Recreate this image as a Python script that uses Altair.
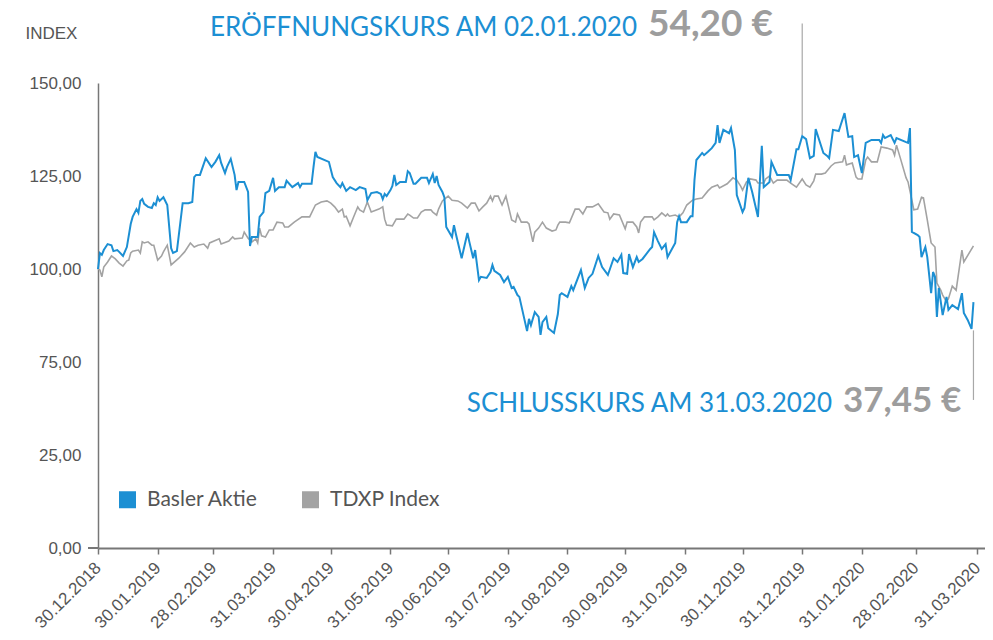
import altair as alt
import pandas as pd

START = "2018-12-30"

basler_days = [0,1,2,3,5,7,8,10,11,13,15,17,18,20,21,22,23,24,26,28,29,30,31,32,34,36,38,39,41,44,47,49,50,51,53,56,59,61,63,64,66,67,69,71,72,73,76,78,79,
               80,83,84,86,87,89,91,92,94,97,98,101,104,105,106,111,112,113,114,120,122,124,126,127,129,131,134,136,139,140,142,145,147,148,149,150,152,153,154,155,157,160,161,162,164,165,168,171,172,174,175,176,177,179,180,181,184,185,186,189,192,193,195,196,198,199,202,204,205,206,209,211,213,215,216,218,219,223,224,225,227,229,230,231,233,234,237,239,240,241,244,246,247,251,253,255,257,260,262,265,268,270,272,273,275,276,278,280,281,283,287,288,289,291,293,295,296,300,301,302,303,306,308,309,310,311,314,315,317,319,321,322,323,325,328,329,331,332,335,336,338,340,343,345,346,349,350,353,359,360,363,364,366,368,370,372,373,377,379,380,382,385,386,388,390,392,393,395,397,399,402,406,407,408,409,412,414,415,420,421,422,423,426,427,428,430,431,433,434,435,436,437,439,441,442,444,447,449,450,452,454,455]
basler_values = [100.0,104.3,103.8,105.1,106.7,106.4,104.8,105.1,104.6,103.5,105.9,112.1,114.0,116.1,115.1,118.3,118.8,117.5,116.7,116.4,117.7,117.2,119.3,118.3,119.3,117.2,105.6,104.3,104.8,117.7,117.7,118.0,124.7,125.3,125.3,129.8,127.4,128.8,130.6,128.5,125.8,127.4,129.6,125.3,121.2,123.4,123.4,120.7,106.2,
                 108.6,108.6,114.0,115.3,120.4,121.0,124.5,121.0,122.0,122.0,123.7,122.0,123.1,122.0,122.9,122.9,127.4,131.5,130.1,128.8,124.7,123.1,122.0,123.1,121.0,122.0,121.2,122.0,121.5,118.5,120.4,120.7,120.2,118.8,120.2,119.6,121.2,122.3,125.3,122.6,123.4,123.4,126.3,125.8,122.9,122.9,124.5,124.5,123.1,125.5,123.1,125.0,122.6,120.7,119.3,111.3,108.6,111.8,109.4,102.9,109.7,107.3,102.9,105.1,97.0,97.9,97.6,99.2,101.1,99.5,98.4,96.5,97.9,94.9,95.2,93.0,92.5,83.3,86.6,84.9,88.4,87.1,82.3,85.7,87.1,84.1,82.8,87.9,93.0,93.5,92.5,95.4,94.3,99.7,94.9,97.6,98.7,103.5,100.5,98.4,102.9,101.9,103.8,98.9,98.7,104.0,100.5,103.2,101.9,102.7,105.4,105.9,109.9,107.5,105.4,106.7,103.2,107.0,112.6,114.2,112.6,112.6,114.2,114.2,123.9,129.3,131.2,130.6,131.5,132.5,133.9,138.7,133.9,137.4,136.5,137.9,132.0,119.9,115.3,116.4,124.5,120.7,114.0,133.1,122.0,123.4,128.8,125.3,125.3,123.9,132.2,132.2,135.7,134.9,129.8,130.4,137.6,131.2,130.4,129.8,137.4,137.1,138.7,141.9,135.5,135.7,130.1,130.6,125.8,133.9,134.7,134.7,133.9,136.0,135.2,136.0,133.9,135.2,134.1,133.9,137.9,110.0,109.1,108.6,103.2,105.9,103.2,93.5,99.2,97.9,87.1,94.9,87.6,92.5,89.0,90.3,89.2,93.5,88.2,86.3,83.9,91.1]

tdxp_days = [0,1,2,3,5,7,9,11,13,15,16,17,18,21,22,23,24,26,28,29,31,33,34,36,37,38,42,45,48,50,52,55,57,58,63,64,68,70,71,75,76,78,80,82,83,84,85,87,89,91,93,96,97,99,102,106,110,113,116,119,121,123,125,127,128,129,131,133,135,136,138,140,142,146,148,149,150,153,155,159,161,162,164,166,168,170,173,174,176,177,179,182,184,187,189,192,194,196,198,200,202,204,205,206,208,210,212,215,217,218,220,223,224,226,227,229,231,233,236,238,239,240,243,245,248,250,252,254,257,260,263,265,266,268,271,274,275,278,280,281,282,284,288,289,291,293,295,296,297,300,302,304,306,309,311,314,317,319,322,323,327,330,332,334,335,337,339,342,343,346,347,349,351,353,358,360,363,366,368,370,372,373,376,378,381,383,387,388,389,392,394,395,397,399,400,402,405,407,410,413,414,415,417,420,421,423,424,426,428,429,431,433,435,436,438,439,441,442,444,446,449,450,455]
tdxp_values = [100.0,99.7,97.9,100.5,101.9,103.5,102.7,101.6,100.8,102.2,102.4,104.3,104.8,105.1,104.3,107.3,107.0,107.3,106.4,106.4,102.4,103.5,104.6,106.4,103.8,101.1,102.9,104.6,107.0,105.9,106.4,106.7,105.6,107.0,108.1,106.7,107.5,108.6,108.1,108.3,109.9,108.3,107.3,108.1,107.0,111.0,108.9,108.6,110.5,110.5,112.6,112.4,111.3,111.3,112.6,114.0,114.0,117.2,118.0,118.3,117.7,116.7,115.3,116.1,114.0,114.2,111.6,114.2,116.7,115.9,115.3,118.0,115.3,116.1,116.7,113.4,111.8,111.6,113.4,113.4,114.8,114.5,113.7,113.7,115.3,115.9,115.9,115.3,114.5,116.1,118.3,119.6,118.5,118.3,117.7,116.4,117.7,117.7,115.6,116.7,117.7,119.6,118.3,119.6,119.6,117.2,119.6,113.2,112.6,114.8,112.6,112.6,112.1,107.3,109.9,111.0,112.6,111.0,110.2,110.5,111.8,112.6,112.6,112.4,116.1,116.1,114.8,116.7,116.7,117.5,115.3,115.1,113.4,114.8,114.5,110.8,112.6,112.6,111.3,109.7,112.6,114.0,114.0,113.2,114.0,115.1,114.2,114.8,114.2,114.5,114.0,115.1,117.2,118.5,118.8,119.1,121.0,122.0,122.6,121.8,122.9,124.5,123.9,122.3,121.2,123.4,124.2,123.9,123.1,123.1,124.2,125.0,123.1,123.9,123.9,123.1,122.0,124.2,122.6,122.0,123.7,125.5,125.5,125.8,127.7,128.5,128.8,130.6,128.0,128.5,124.7,124.2,124.2,129.3,130.1,128.8,128.8,132.8,132.5,132.0,130.6,133.3,129.8,124.5,123.4,118.5,115.9,116.1,119.3,119.1,113.2,107.0,105.9,96.2,94.3,93.0,91.2,92.0,95.4,94.3,105.1,101.9,106.2]

series_names = ["Basler Aktie", "TDXP Index"]
series_colors = ["#1c8fd3", "#a3a3a3"]

tick_dates = [(2018, 12, 30), (2019, 1, 30), (2019, 2, 28), (2019, 3, 31), (2019, 4, 30),
              (2019, 5, 31), (2019, 6, 30), (2019, 7, 31), (2019, 8, 31), (2019, 9, 30),
              (2019, 10, 31), (2019, 11, 30), (2019, 12, 31), (2020, 1, 31), (2020, 2, 28),
              (2020, 3, 31)]
x_domain = [(2018, 12, 30), (2020, 4, 4)]
y_ticks = [0, 25, 75, 100, 125, 150]
y_break_domain = [0, 25, 75, 150]

# annotation leader lines (date, upper value, lower value)
ann_dates = ["2019-12-31", "2020-03-29"]
ann_top = [166.0, 83.5]
ann_bottom = [136.0, 54.6]

open_label = "ERÖFFNUNGSKURS AM 02.01.2020"
open_value = "54,20 €"
close_label = "SCHLUSSKURS AM 31.03.2020"
close_value = "37,45 €"

W, H = 887, 465


def frame(days, vals, name):
    return pd.DataFrame({
        "date": pd.Timestamp(START) + pd.to_timedelta(days, unit="D"),
        "value": vals,
        "series": name,
    })


df = pd.concat([frame(basler_days, basler_values, series_names[0]),
                frame(tdxp_days, tdxp_values, series_names[1])], ignore_index=True)

dt = lambda t: alt.DateTime(year=t[0], month=t[1], date=t[2])

x_enc = alt.X("date:T",
              scale=alt.Scale(domain=[dt(t) for t in x_domain]),
              axis=alt.Axis(values=[dt(t) for t in tick_dates], format="%d.%m.%Y",
                            labelAngle=315, labelAlign="right", labelBaseline="middle",
                            labelFlush=False, labelOverlap=False,
                            tickSize=6, tickColor="#777777", tickWidth=1.5,
                            domainColor="#777777", domainWidth=2,
                            labelFont="Liberation Sans", labelFontSize=17, labelColor="#555555",
                            labelPadding=11, grid=False, title=None))

y_scale = alt.Scale(domain=y_break_domain, range=[H, H - 93, H - 186, 0], nice=False, zero=False)
y_enc = alt.Y("value:Q", scale=y_scale,
              axis=alt.Axis(values=y_ticks,
                            labelExpr="replace(format(datum.value, '.2f'), '.', ',')",
                            ticks=False, domainColor="#777777", domainWidth=1.5,
                            labelFont="Liberation Sans", labelFontSize=17, labelColor="#555555",
                            labelPadding=17, grid=False,
                            title="INDEX", titleAngle=0, titleAlign="left",
                            titleBaseline="alphabetic", titleX=-73, titleY=-45,
                            titleFont="Liberation Sans", titleFontWeight="normal",
                            titleFontSize=17, titleColor="#555555"))

color_scale = alt.Scale(domain=series_names, range=series_colors)
legend = alt.Legend(orient="none", legendX=19, legendY=406,
                    direction="horizontal", title=None,
                    symbolType="square", symbolSize=64, symbolStrokeWidth=9,
                    labelFont="Lato", labelFontSize=21, labelColor="#555555",
                    labelOffset=9, columnPadding=30, padding=0)

base = alt.Chart(df)

gray_line = base.transform_filter(alt.datum.series == series_names[1]).mark_line().encode(
    x=x_enc, y=y_enc,
    color=alt.Color("series:N", scale=color_scale, legend=legend),
    strokeWidth=alt.value(1.6))
blue_line = base.transform_filter(alt.datum.series == series_names[0]).mark_line().encode(
    x=x_enc, y=y_enc,
    color=alt.Color("series:N", scale=color_scale, legend=legend),
    strokeWidth=alt.value(2))

ann_df = pd.DataFrame({"date": pd.to_datetime(ann_dates), "top": ann_top, "bottom": ann_bottom})
leaders = alt.Chart(ann_df).mark_rule(color="#a8a8a8", strokeWidth=1.2).encode(
    x="date:T", y=alt.Y("top:Q"), y2="bottom:Q")

zero_tick = alt.Chart(pd.DataFrame({"v": [0]})).mark_rule(color="#777777", strokeWidth=2).encode(
    x=alt.value(-10), x2=alt.value(0), y="v:Q")


def label(text, x, y, align, color, size, weight):
    return alt.Chart(pd.DataFrame({"t": [text]})).mark_text(
        align=align, baseline="alphabetic", font="Lato", fontSize=size,
        fontWeight=weight, color=color).encode(text="t:N", x=alt.value(x), y=alt.value(y))


texts = [
    label(open_label, 539, -47, "right", "#1c8fd3", 26, "normal"),
    label(open_value, 550, -47, "left", "#9d9d9d", 37, "bold"),
    label(close_label, 734, 329, "right", "#1c8fd3", 26, "normal"),
    label(close_value, 745, 329, "left", "#9d9d9d", 35, "bold"),
]

chart = alt.layer(gray_line, blue_line, leaders, zero_tick, *texts).properties(
    width=W, height=H,
    background="white",
    autosize=alt.AutoSizeParams(type="none"),
    padding={"left": 90, "top": 75, "right": 0, "bottom": 84},
).configure_view(stroke=None)

chart.save("out.html", embed_options={"renderer": "svg", "actions": False})
